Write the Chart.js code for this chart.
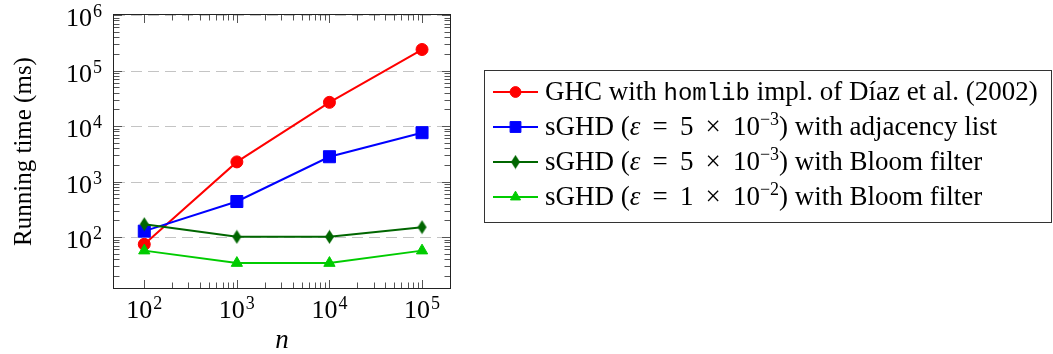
<!DOCTYPE html>
<html>
<head>
<meta charset="utf-8">
<script src="https://cdn.jsdelivr.net/npm/chart.js@4/dist/chart.umd.min.js"></script>
<style>
  body { margin: 0; background: #fff; }
  #wrap { position: relative; width: 1053px; height: 354px; }
</style>
</head>
<body>
<div id="wrap"><canvas id="myChart"></canvas></div>
<script>
// DATA
const nValues = [100, 1000, 10000, 100000];

const ghcHomlib = [74, 2260, 26700, 239000];
const sghdAdjacency = [128, 437, 2800, 7590];
const sghdBloom5 = [171, 101, 101, 151];
const sghdBloom1 = [57, 34, 34, 57];

const xTickExps = [2, 3, 4, 5];
const yTickExps = [2, 3, 4, 5, 6];

const xTitle = 'n';
const yTitle = 'Running time (ms)';

// legend labels: [text, kind]  r = roman, i = italic, m = monospace, s = superscript
const legendLabels = [
  [['GHC with ', 'r'], ['homlib', 'm'], [' impl. of Díaz et al. (2002)', 'r']],
  [['sGHD (', 'r'], ['ε', 'i'], [' \u2009= \u20095 \u2009× \u200910', 'r'], ['−3', 's'], [') with adjacency list', 'r']],
  [['sGHD (', 'r'], ['ε', 'i'], [' \u2009= \u20095 \u2009× \u200910', 'r'], ['−3', 's'], [') with Bloom filter', 'r']],
  [['sGHD (', 'r'], ['ε', 'i'], [' \u2009= \u20091 \u2009× \u200910', 'r'], ['−2', 's'], [') with Bloom filter', 'r']],
];

const SERIF = '"Liberation Serif", "Times New Roman", serif';
const MONO = '"Liberation Mono", "Courier New", monospace';

const toPoints = (ys) => nValues.map((n, i) => ({ x: n, y: ys[i] }));

// narrow diamond like pgfplots diamond*
const diamond = (() => {
  const c = document.createElement('canvas');
  c.width = 11; c.height = 15;
  const g = c.getContext('2d');
  g.fillStyle = '#006600';
  g.beginPath();
  g.moveTo(5.5, 0.5); g.lineTo(10, 7.5); g.lineTo(5.5, 14.5); g.lineTo(1, 7.5);
  g.closePath();
  g.fill();
  return c;
})();

let data = {
  datasets: [
    { label: 'ghc', data: toPoints(ghcHomlib), borderColor: '#ff0000', backgroundColor: '#ff0000',
      pointStyle: 'circle', pointRadius: 6, order: 3 },
    { label: 'adj', data: toPoints(sghdAdjacency), borderColor: '#0000ff', backgroundColor: '#0000ff',
      pointStyle: 'rect', pointRadius: 8.5, order: 2 },
    { label: 'bloom5', data: toPoints(sghdBloom5), borderColor: '#006600', backgroundColor: '#006600',
      pointStyle: diamond, pointRadius: 6, order: 1 },
    { label: 'bloom1', data: toPoints(sghdBloom1), borderColor: '#00cc00', backgroundColor: '#00cc00',
      pointStyle: 'triangle', pointRadius: 6.5, order: 0 },
  ]
};

function drawPow(ctx, exp, x, y, align) {
  ctx.font = '26px ' + SERIF;
  const bw = ctx.measureText('10').width;
  ctx.font = '18px ' + SERIF;
  const sw = ctx.measureText(String(exp)).width;
  const total = bw + 1 + sw;
  const x0 = align === 'center' ? x - total / 2 : x - total;
  ctx.textAlign = 'left';
  ctx.textBaseline = 'alphabetic';
  ctx.font = '26px ' + SERIF;
  ctx.fillText('10', x0, y);
  ctx.font = '18px ' + SERIF;
  ctx.fillText(String(exp), x0 + bw + 1, y - 9);
}

function drawRich(ctx, segs, x, y) {
  ctx.textAlign = 'left';
  ctx.textBaseline = 'alphabetic';
  segs.forEach(([t, k]) => {
    let dy = 0;
    if (k === 'i') ctx.font = 'italic 27px ' + SERIF;
    else if (k === 'm') ctx.font = '24px ' + MONO;
    else if (k === 's') { ctx.font = '18px ' + SERIF; dy = -10; }
    else ctx.font = '27px ' + SERIF;
    ctx.fillText(t, x, y + dy);
    x += ctx.measureText(t).width;
  });
}

const axesPlugin = {
  id: 'axesPlugin',
  beforeDatasetsDraw(chart) {
    const { ctx, chartArea: a, scales: { x, y } } = chart;
    ctx.save();
    // dashed major grid
    ctx.strokeStyle = '#c4c4c4';
    ctx.lineWidth = 1;
    ctx.setLineDash([11, 6]);
    yTickExps.forEach(e => {
      const py = Math.round(y.getPixelForValue(Math.pow(10, e))) + 0.5;
      ctx.beginPath(); ctx.moveTo(a.left, py); ctx.lineTo(a.right, py); ctx.stroke();
    });
    ctx.setLineDash([]);
    // ticks (inside, mirrored)
    ctx.strokeStyle = '#555';
    const tick = (px, len, horiz) => {
      ctx.beginPath();
      if (horiz) {
        ctx.moveTo(a.left, px); ctx.lineTo(a.left + len, px);
        ctx.moveTo(a.right, px); ctx.lineTo(a.right - len, px);
      } else {
        ctx.moveTo(px, a.bottom); ctx.lineTo(px, a.bottom - len);
        ctx.moveTo(px, a.top); ctx.lineTo(px, a.top + len);
      }
      ctx.stroke();
    };
    for (let e = 1; e <= 6; e++) {
      for (let m = 1; m <= 9; m++) {
        const v = m * Math.pow(10, e);
        if (v < y.min || v > y.max) continue;
        tick(Math.round(y.getPixelForValue(v)) + 0.5, m === 1 ? 8 : 5.5, true);
      }
    }
    for (let e = xTickExps[0]; e <= xTickExps[xTickExps.length - 1]; e++) {
      for (let m = 1; m <= 9; m++) {
        if (e === xTickExps[xTickExps.length - 1] && m > 1) break;
        const v = m * Math.pow(10, e);
        tick(Math.round(x.getPixelForValue(v)) + 0.5, m === 1 ? 8 : 5.5, false);
      }
    }
    // frame
    ctx.strokeStyle = '#222';
    ctx.strokeRect(Math.round(a.left) - 0.5, Math.round(a.top) - 0.5,
      Math.round(a.right - a.left) + 1, Math.round(a.bottom - a.top) + 1);
    ctx.restore();
  },
  afterDraw(chart) {
    const { ctx, chartArea: a, scales: { x, y } } = chart;
    ctx.save();
    ctx.fillStyle = '#000';
    xTickExps.forEach(e => drawPow(ctx, e, x.getPixelForValue(Math.pow(10, e)), a.bottom + 30, 'center'));
    yTickExps.forEach(e => drawPow(ctx, e, a.left - 12, y.getPixelForValue(Math.pow(10, e)) + 11, 'right'));
    // axis titles
    ctx.font = 'italic 27px ' + SERIF;
    ctx.textAlign = 'center';
    ctx.fillText(xTitle, (a.left + a.right) / 2, 348);
    ctx.save();
    ctx.translate(31, (a.top + a.bottom) / 2);
    ctx.rotate(-Math.PI / 2);
    ctx.font = '25px ' + SERIF;
    ctx.textBaseline = 'alphabetic';
    ctx.fillText(yTitle, 0, 0);
    ctx.restore();

    // legend
    ctx.strokeStyle = '#333';
    ctx.lineWidth = 1;
    ctx.strokeRect(484.5, 70.5, 567, 152);
    chart.data.datasets.forEach((ds, i) => {
      const cy = 92 + i * 35;
      ctx.strokeStyle = ds.borderColor;
      ctx.fillStyle = ds.backgroundColor;
      ctx.lineWidth = 2;
      ctx.beginPath(); ctx.moveTo(493, cy); ctx.lineTo(538, cy); ctx.stroke();
      ctx.lineWidth = 1;
      Chart.helpers.drawPoint(ctx, { pointStyle: ds.pointStyle, radius: ds.pointRadius * 0.9, rotation: 0, borderWidth: 1 }, 515.5, cy);
      ctx.fillStyle = '#000';
      drawRich(ctx, legendLabels[i], 545, cy + 8);
    });
    ctx.restore();
  }
};

// CONFIG
const config = {
  type: 'line',
  data,
  options: {
    responsive: false,
    animation: false,
    layout: { padding: { left: 114, right: 603, top: 15, bottom: 66 } },
    datasets: { line: { borderWidth: 2, pointBorderWidth: 1, tension: 0 } },
    plugins: { legend: { display: false }, tooltip: { enabled: false } },
    scales: {
      x: { type: 'logarithmic', display: false, min: Math.pow(10, 1.673), max: Math.pow(10, 5.302) },
      y: { type: 'logarithmic', display: false, min: 12.1, max: 1e6 },
    }
  },
  plugins: [axesPlugin]
};

const cv = document.getElementById('myChart');
cv.width = 1053; cv.height = 354;
var myChart = new Chart(cv, config);
</script>
</body>
</html>
